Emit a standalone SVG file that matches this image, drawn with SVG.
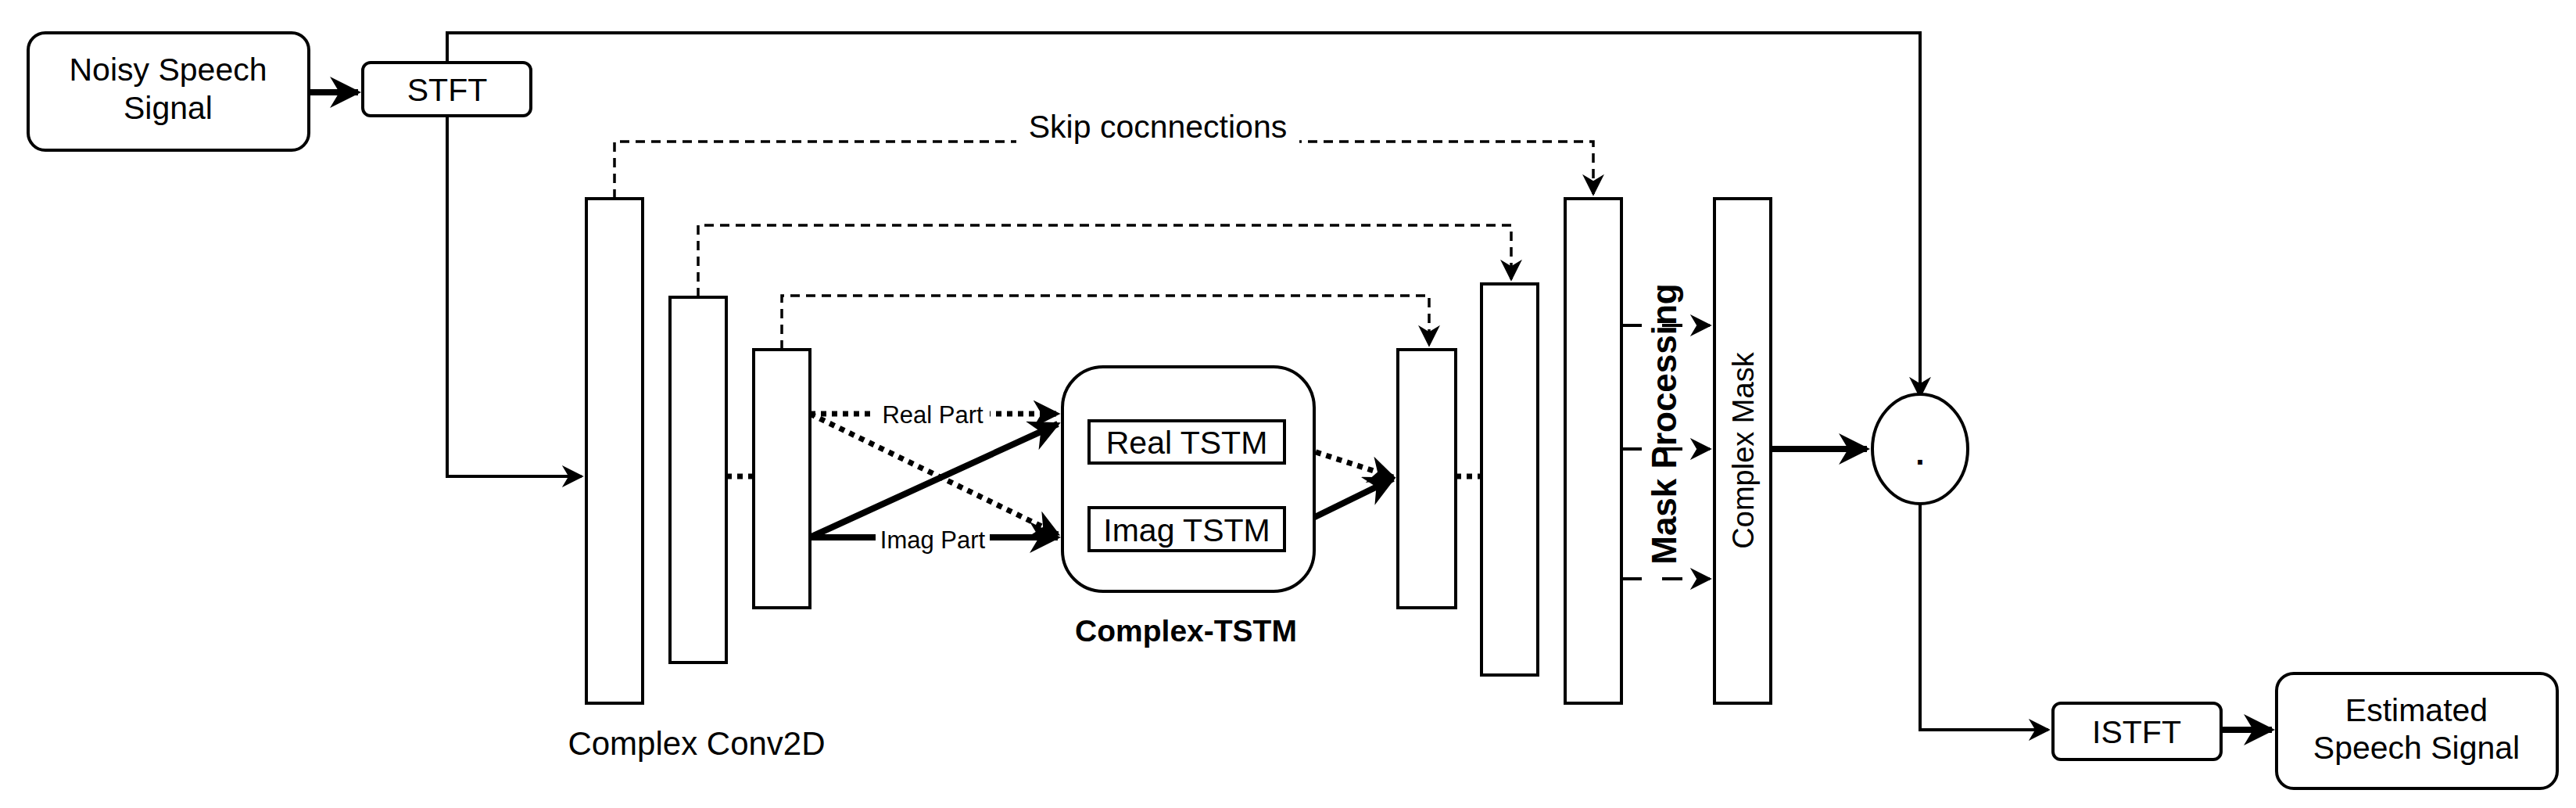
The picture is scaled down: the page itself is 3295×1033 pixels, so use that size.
<svg xmlns="http://www.w3.org/2000/svg" width="3295" height="1033" viewBox="0 0 3295 1033">
<style>
.b{fill:#fff;stroke:#000;stroke-width:4}
.t{font-family:"Liberation Sans",Arial,sans-serif;font-size:41px;text-anchor:middle;fill:#000}
.ln{fill:none;stroke:#000;stroke-width:4}
.th{fill:none;stroke:#000;stroke-width:8}
.dt{fill:none;stroke:#000;stroke-width:7;stroke-dasharray:7 7}
.ds{fill:none;stroke:#000;stroke-width:3.5;stroke-dasharray:12 8}
.dl{fill:none;stroke:#000;stroke-width:4;stroke-dasharray:26 26}
</style>
<defs>
<marker id="at" viewBox="0 0 10 10" refX="9" refY="5" markerWidth="5" markerHeight="5" orient="auto"><path d="M0,0 L10,5 L0,10 L3,5 Z"/></marker>
<marker id="ad" viewBox="0 0 10 10" refX="9" refY="5" markerWidth="28" markerHeight="28" markerUnits="userSpaceOnUse" orient="auto"><path d="M0,0 L10,5 L0,10 L3,5 Z"/></marker>
</defs>
<g id="connectors">
<path class="th" d="M395,118 H458" marker-end="url(#at)"/>
<path class="ln" d="M572,78 V42 H2456 V507" marker-end="url(#ad)"/>
<path class="ln" d="M572,147 V609 H744" marker-end="url(#ad)"/>
<path class="ds" d="M786,254 V181 H2038 V248" marker-end="url(#ad)"/>
<path class="ds" d="M893,380 V288 H1933 V357" marker-end="url(#ad)"/>
<path class="ds" d="M1000,447 V378 H1828 V441" marker-end="url(#ad)"/>
<path class="dt" d="M929,609 H964"/>
<path class="dt" d="M1862,609 H1895"/>
<path class="dt" d="M1036,529 H1353" marker-end="url(#at)"/>
<path class="dt" d="M1036,529 L1353,683" marker-end="url(#at)"/>
<path class="th" d="M1036,687 L1353,542" marker-end="url(#at)"/>
<path class="th" d="M1036,687 H1353" marker-end="url(#at)"/>
<path class="dt" d="M1643,565 L1782,610" marker-end="url(#at)"/>
<path class="th" d="M1643,680 L1782,612" marker-end="url(#at)"/>
<path class="dl" d="M2074,416 H2187" marker-end="url(#ad)"/>
<path class="dl" d="M2074,574 H2187" marker-end="url(#ad)"/>
<path class="dl" d="M2074,740 H2187" marker-end="url(#ad)"/>
<path class="th" d="M2265,574 H2388" marker-end="url(#at)"/>
<path class="ln" d="M2456,642 V933 H2620" marker-end="url(#ad)"/>
<path class="th" d="M2841,933 H2906" marker-end="url(#at)"/>
<rect x="1120" y="510" width="146" height="38" fill="#fff"/>
<text class="t" x="1193" y="541" style="font-size:31px">Real Part</text>
<rect x="1120" y="670" width="146" height="38" fill="#fff"/>
<text class="t" x="1193" y="701" style="font-size:31px">Imag Part</text>
<rect x="1300" y="138" width="362" height="46" fill="#fff"/>
<text class="t" x="1481" y="176" style="font-size:41px">Skip cocnnections</text>
</g>
<g id="noisy"><rect class="b" x="36" y="42" width="359" height="150" rx="22"/><text class="t" x="215" y="103">Noisy Speech</text><text class="t" x="215" y="152">Signal</text></g>
<g id="stft"><rect class="b" x="464" y="80" width="215" height="68" rx="10"/><text class="t" x="572" y="129">STFT</text></g>
<g id="conv1"><rect class="b" x="750" y="254" width="72" height="645"/></g>
<g id="conv2"><rect class="b" x="857" y="380" width="72" height="467"/></g>
<g id="conv3"><rect class="b" x="964" y="447" width="72" height="330"/></g>
<g id="conv-label"><text class="t" x="891" y="965" style="font-size:42px">Complex Conv2D</text></g>
<g id="ctstm"><rect class="b" x="1359" y="469" width="322" height="287" rx="52"/><text class="t" x="1517" y="820" style="font-weight:bold;font-size:39px">Complex-TSTM</text></g>
<g id="realtstm"><rect class="b" x="1393" y="538" width="250" height="54"/><text class="t" x="1518" y="580">Real TSTM</text></g>
<g id="imagtstm"><rect class="b" x="1393" y="649" width="250" height="55"/><text class="t" x="1518" y="692">Imag TSTM</text></g>
<g id="dec1"><rect class="b" x="1788" y="447" width="74" height="330"/></g>
<g id="dec2"><rect class="b" x="1895" y="363" width="72" height="500"/></g>
<g id="dec3"><rect class="b" x="2002" y="254" width="72" height="645"/></g>
<g id="maskproc"><text class="t" transform="translate(2144,542) rotate(-90)" style="font-weight:bold;font-size:44px">Mask Processing</text></g>
<g id="cmask"><rect class="b" x="2193" y="254" width="72" height="645"/><text class="t" transform="translate(2243,576) rotate(-90)" style="font-size:38px">Complex Mask</text></g>
<g id="mult"><ellipse class="b" cx="2456" cy="574" rx="61" ry="70"/><text class="t" x="2456" y="594" style="font-weight:bold">.</text></g>
<g id="istft"><rect class="b" x="2626" y="899" width="215" height="72" rx="10"/><text class="t" x="2733" y="950">ISTFT</text></g>
<g id="est"><rect class="b" x="2912" y="861" width="359" height="147" rx="22"/><text class="t" x="3091" y="922">Estimated</text><text class="t" x="3091" y="970">Speech Signal</text></g>
</svg>
